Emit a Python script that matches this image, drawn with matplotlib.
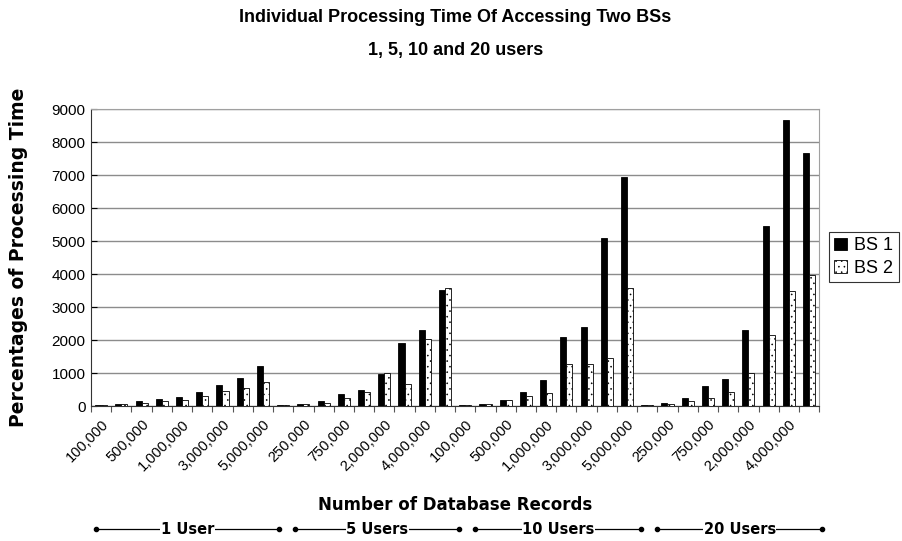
import numpy as np
import matplotlib
matplotlib.use("Agg")
import matplotlib.pyplot as plt
from matplotlib.lines import Line2D
from matplotlib.transforms import blended_transform_factory

plt.rcParams['font.family'] = ['Liberation Sans', 'DejaVu Sans']
plt.rcParams['hatch.linewidth'] = 0.4

records = ["100,000", "250,000", "500,000", "750,000", "1,000,000",
           "2,000,000", "3,000,000", "4,000,000", "5,000,000"]
groups = ["1 User", "5 Users", "10 Users", "20 Users"]

bs1 = [30, 70, 140, 200, 260, 430, 640, 860, 1210,
       30, 60, 140, 350, 500, 980, 1910, 2290, 3530,
       30, 70, 180, 440, 780, 2090, 2400, 5100, 6950,
       30, 100, 240, 620, 820, 2310, 5470, 8680, 7670]
bs2 = [20, 60, 90, 140, 170, 290, 460, 550, 740,
       20, 60, 90, 230, 410, 990, 680, 2030, 3590,
       20, 60, 170, 300, 380, 1280, 1260, 1470, 3580,
       20, 70, 150, 240, 440, 1010, 2140, 3490, 3980]

labels = records * len(groups)
n = len(labels)
x = np.arange(n)

fig = plt.figure(figsize=(9.02, 5.41), dpi=100)
ax = fig.add_axes([0.1009, 0.2495, 0.8073, 0.549])

w = 0.3
ax.bar(x - w / 2, bs1, w, color='black', edgecolor='black', linewidth=0.6,
       label='BS 1', zorder=3)
ax.bar(x + w / 2, bs2, w, color='white', edgecolor='black', linewidth=0.6,
       hatch='...', label='BS 2', zorder=3)

ax.set_xlim(-0.5, n - 0.5)
ax.set_ylim(0, 9000)
ax.set_yticks(range(0, 9001, 1000))
ax.yaxis.grid(True, color='#8c8c8c', linewidth=1.0, zorder=0)
ax.tick_params(axis='y', labelsize=11, length=4, direction='in', pad=4)

# boundary ticks, labels on every other category
ax.set_xticks(np.arange(n + 1) - 0.5)
ax.set_xticklabels([])
ax.tick_params(axis='x', which='major', length=4, direction='out', color='#555555')
ax.set_xticks(x[::2], minor=True)
ax.set_xticklabels(labels[::2], minor=True, rotation=45, ha='right',
                   rotation_mode='anchor', fontsize=10.5)
ax.tick_params(axis='x', which='minor', length=0, pad=8)

for side in ['top', 'right']:
    ax.spines[side].set_color('#a0a0a0')
for side in ['left', 'bottom']:
    ax.spines[side].set_color('#333333')

fig.text(0.505, 0.968, "Individual Processing Time Of Accessing Two BSs",
         ha='center', va='center', fontsize=13, fontweight='bold')
fig.text(0.505, 0.907, "1, 5, 10 and 20 users",
         ha='center', va='center', fontsize=13, fontweight='bold')
fig.text(0.02, 0.525, "Percentages of Processing Time", rotation=90,
         ha='center', va='center', fontsize=13.5, fontweight='bold',
         family='DejaVu Sans')
fig.text(0.505, 0.066, "Number of Database Records",
         ha='center', va='center', fontsize=12, fontweight='bold',
         family='DejaVu Sans')

# group brackets under the axis
spans = [(-0.25, 8.8), (9.6, 17.7), (18.5, 26.7), (27.5, 35.65)]
tr = blended_transform_factory(ax.transData, fig.transFigure)
yb = 0.022
for (a, b), g in zip(spans, groups):
    fig.add_artist(Line2D([a, b], [yb, yb], color='black', linewidth=0.9,
                          marker='o', markersize=3, markevery=[0, 1],
                          transform=tr))
    fig.text((a + b) / 2, yb, g, transform=tr, ha='center', va='center',
             fontsize=10.5, fontweight='bold', family='DejaVu Sans',
             bbox=dict(facecolor='white', edgecolor='none', pad=0.3))

leg = fig.legend(loc='center left', bbox_to_anchor=(0.919, 0.525),
                 fontsize=13, frameon=True, fancybox=False, edgecolor='black',
                 handlelength=0.7, handleheight=0.7, handletextpad=0.4,
                 borderpad=0.3, labelspacing=0.3, borderaxespad=0)
leg.get_frame().set_linewidth(0.8)

fig.savefig("out.png", dpi=100)
